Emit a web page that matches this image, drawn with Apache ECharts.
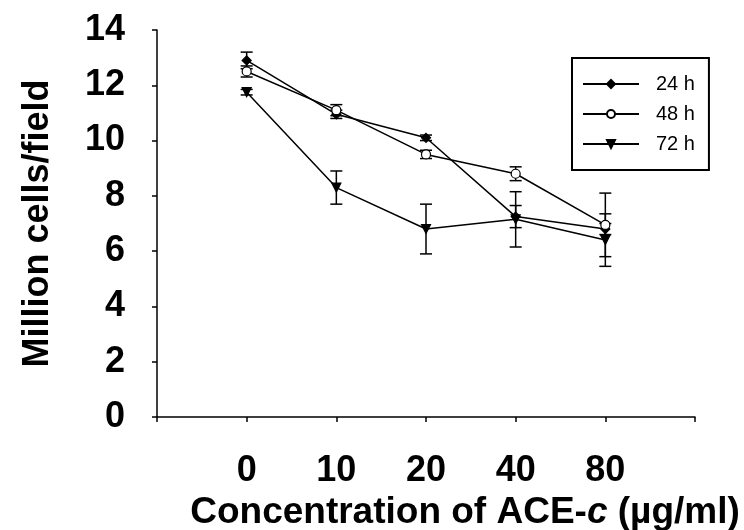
<!DOCTYPE html>
<html>
<head>
<meta charset="utf-8">
<script src="https://cdn.jsdelivr.net/npm/echarts@6/dist/echarts.min.js"></script>
<style>
  html, body { margin: 0; padding: 0; background: #fff; }
  #chart { width: 744px; height: 530px; }
</style>
</head>
<body>
<div id="chart"></div>
<script>
// concentrations (blank slots at both ends give the empty room left and right)
var concentrations = ['', '0', '10', '20', '40', '80', ''];
var yTicks = [0, 2, 4, 6, 8, 10, 12, 14];

// mean values, million cells/field
var mean24 = [null, 12.9, 10.95, 10.1, 7.25, 6.8, null];
var mean48 = [null, 12.5, 11.1, 9.5, 8.8, 6.95, null];
var mean72 = [null, 11.75, 8.3, 6.8, 7.15, 6.4, null];

// error bar half-lengths
var err24 = [0, 0.3, 0.15, 0.1, 0.4, 0.2, 0];
var err48 = [0, 0.2, 0.2, 0.15, 0.25, 1.15, 0];
var err72 = [0, 0.1, 0.6, 0.9, 1.0, 0.95, 0];

var font = '"Liberation Sans Narrow", "Liberation Sans", Arial, sans-serif';

function errData(means, errs) {
    var out = [];
    for (var i = 0; i < means.length; i++) {
        if (means[i] == null) continue;
        out.push([i, means[i], errs[i]]);
    }
    return out;
}

function renderErr(params, api) {
    var x = api.value(0), m = api.value(1), e = api.value(2);
    var top = api.coord([x, m + e]);
    var bot = api.coord([x, m - e]);
    var w = 6;
    var st = {stroke: '#000', lineWidth: 1.5};
    return {
        type: 'group',
        children: [
            {type: 'line', shape: {x1: top[0], y1: top[1], x2: bot[0], y2: bot[1]}, style: st},
            {type: 'line', shape: {x1: top[0] - w, y1: top[1], x2: top[0] + w, y2: top[1]}, style: st},
            {type: 'line', shape: {x1: bot[0] - w, y1: bot[1], x2: bot[0] + w, y2: bot[1]}, style: st}
        ]
    };
}

function lineSeries(name, data, symbol, rotate, fill) {
    return {
        name: name,
        type: 'line',
        data: data,
        symbol: symbol,
        symbolSize: 9,
        symbolRotate: rotate,
        connectNulls: false,
        lineStyle: {color: '#000', width: 1.5},
        itemStyle: {color: fill, borderColor: '#000', borderWidth: 1.2},
        z: 3
    };
}

function errSeries(means, errs) {
    return {
        type: 'custom',
        renderItem: renderErr,
        data: errData(means, errs),
        encode: {x: 0, y: 1},
        silent: true,
        z: 2
    };
}

var myChart = echarts.init(document.getElementById('chart'));

var option = {
    animation: false,
    backgroundColor: '#fff',
    grid: {left: 157, right: 49, top: 30, bottom: 113, outerBoundsMode: 'none', containLabel: false},
    legend: {
        left: 572,
        top: 58,
        orient: 'vertical',
        itemWidth: 56,
        itemHeight: 10,
        itemGap: 10,
        padding: [16, 14, 16, 10],
        borderColor: '#000',
        borderWidth: 2,
        data: ['24 h', '48 h', '72 h'],
        textStyle: {fontFamily: 'Liberation Sans, Arial, sans-serif', fontSize: 20, color: '#000', lineHeight: 20, padding: [0, 0, 0, 12]}
    },
    xAxis: {
        type: 'category',
        data: concentrations,
        boundaryGap: false,
        axisLine: {lineStyle: {color: '#000', width: 1.5}},
        axisTick: {show: true, length: 5, lineStyle: {color: '#000', width: 1.5}},
        axisLabel: {margin: 36, color: '#000', fontFamily: font, fontWeight: 'bold', fontSize: 36},
        splitLine: {show: false},
        name: '{a|Concentration of ACE-}{b|c}{a| (µg/ml)}',
        nameLocation: 'middle',
        nameGap: 76,
        nameTextStyle: {
            padding: [0, 0, 0, 78],
            rich: {
                a: {fontFamily: font, fontWeight: 'bold', fontSize: 37, color: '#000'},
                b: {fontFamily: font, fontWeight: 'bold', fontStyle: 'italic', fontSize: 37, color: '#000'}
            }
        }
    },
    yAxis: {
        type: 'value',
        min: 0,
        max: 14,
        interval: 2,
        axisLine: {show: true, lineStyle: {color: '#000', width: 1.5}},
        axisTick: {show: true, length: 5, lineStyle: {color: '#000', width: 1.5}},
        axisLabel: {margin: 32, color: '#000', fontFamily: font, fontWeight: 'bold', fontSize: 36,
            formatter: function (v) { return yTicks.indexOf(v) >= 0 ? String(v) : ''; }},
        splitLine: {show: false},
        name: 'Million cells/field',
        nameLocation: 'middle',
        nameGap: 101,
        nameTextStyle: {fontFamily: font, fontWeight: 'bold', fontSize: 36, color: '#000'}
    },
    series: [
        lineSeries('24 h', mean24, 'diamond', 0, '#000'),
        lineSeries('48 h', mean48, 'circle', 0, '#fff'),
        lineSeries('72 h', mean72, 'triangle', 180, '#000'),
        errSeries(mean24, err24),
        errSeries(mean48, err48),
        errSeries(mean72, err72)
    ]
};

myChart.setOption(option);
</script>
</body>
</html>
